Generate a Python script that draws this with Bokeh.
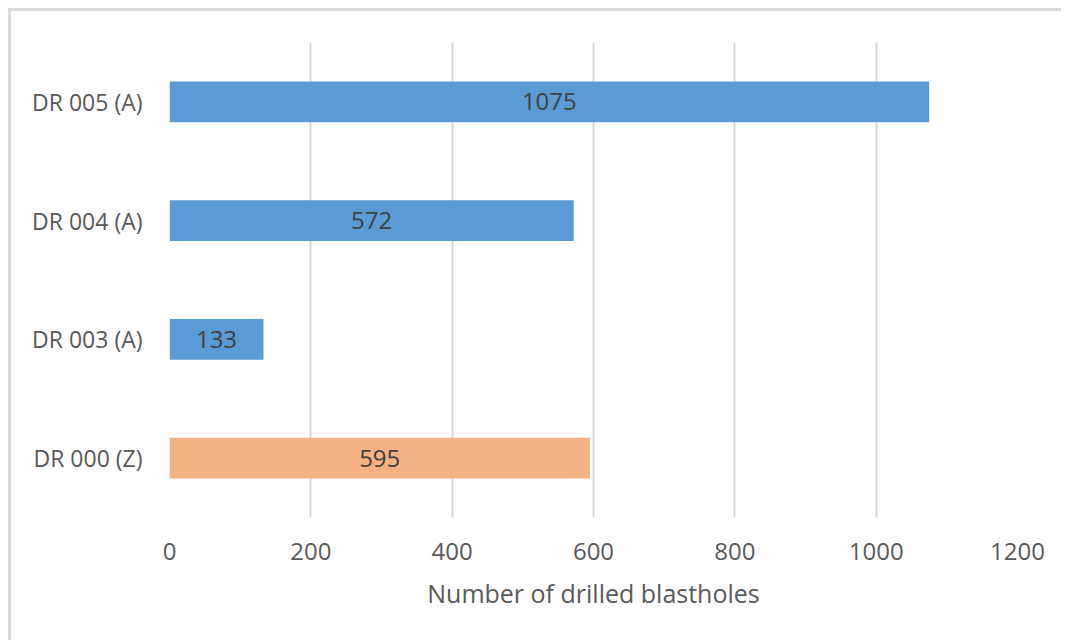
from bokeh.plotting import figure
from bokeh.models import ColumnDataSource, FactorRange, Range1d, FixedTicker
from bokeh.core.properties import value
from bokeh.embed import file_html
from bokeh.resources import INLINE

categories = ["DR 000 (Z)", "DR 003 (A)", "DR 004 (A)", "DR 005 (A)"]
blastholes = [595, 133, 572, 1075]
bar_colors = ["#F4B183", "#5B9BD5", "#5B9BD5", "#5B9BD5"]
x_ticks = [0, 200, 400, 600, 800, 1000, 1200]

FONT = "Open Sans"

src = ColumnDataSource(dict(
    cat=categories,
    val=blastholes,
    mid=[v / 2 for v in blastholes],
    lab=[str(v) for v in blastholes],
    color=bar_colors,
))

p = figure(
    width=1053, height=632,
    y_range=FactorRange(*categories),
    x_range=Range1d(0, 1200),
    output_backend="svg", toolbar_location=None,
    min_border_left=158, min_border_right=47,
    min_border_top=31, min_border_bottom=126,
)
p.styles = {"border-top": "3px solid #d9d9d9", "border-left": "3px solid #d9d9d9",
            "margin-left": "8px", "margin-top": "8px"}

p.hbar(y="cat", right="val", left=0, height=0.345, color="color", source=src, line_color=None)
p.text(x="mid", y="cat", text="lab", source=src, text_align="center", text_baseline="middle",
       text_font=value(FONT), text_font_size="24px", text_color="#404040")

p.outline_line_color = None
p.ygrid.grid_line_color = None
p.xgrid.grid_line_color = "#d9d9d9"
p.xgrid.grid_line_width = 2
p.xaxis.ticker = FixedTicker(ticks=x_ticks)

for ax in (p.xaxis[0], p.yaxis[0]):
    ax.axis_line_color = None
    ax.major_tick_line_color = None
    ax.minor_tick_line_color = None
    ax.major_label_text_font = FONT
    ax.major_label_text_color = "#595959"

p.yaxis.major_label_text_font_size = "23px"
p.xaxis.major_label_text_font_size = "24px"
p.yaxis.major_label_standoff = 21
p.xaxis.major_label_standoff = 19
p.xaxis.axis_label = "Number of drilled blastholes"
p.xaxis.axis_label_text_font = FONT
p.xaxis.axis_label_text_font_size = "25px"
p.xaxis.axis_label_text_font_style = "normal"
p.xaxis.axis_label_text_color = "#595959"
p.xaxis.axis_label_standoff = 13

open("out.html", "w").write(file_html(p, INLINE))
